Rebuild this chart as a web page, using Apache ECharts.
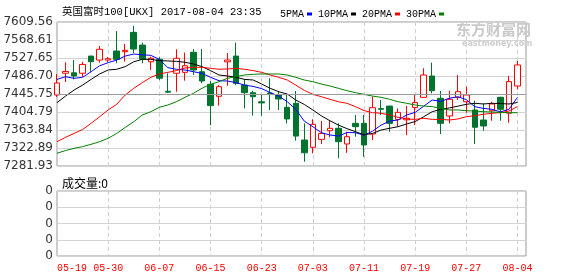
<!DOCTYPE html>
<html><head><meta charset="utf-8">
<script src="https://cdn.jsdelivr.net/npm/echarts@6/dist/echarts.min.js"></script>
<style>html,body{margin:0;padding:0;background:#fff}#c{width:578px;height:276px}</style>
</head><body><div id="c"></div>
<script>
const dates = ['05-19','05-22','05-23','05-24','05-25','05-26','05-30','05-31','06-01','06-02','06-05','06-06','06-07','06-08','06-09','06-12','06-13','06-14','06-15','06-16','06-19','06-20','06-21','06-22','06-23','06-26','06-27','06-28','06-29','06-30','07-03','07-04','07-05','07-06','07-07','07-10','07-11','07-12','07-13','07-14','07-17','07-18','07-19','07-20','07-21','07-24','07-25','07-26','07-27','07-28','07-31','08-01','08-02','08-03','08-04'];
const opens  = [7443.5,7493,7494,7493,7532,7523,7523,7543.6,7542,7586,7557,7519,7524.7,7452,7493,7495,7540.6,7496.5,7467.8,7440.5,7519,7532,7466,7448.7,7428,7448,7443.5,7415.5,7424.6,7341,7324.5,7342.5,7362.3,7367.7,7332,7379,7379,7354.7,7412.5,7418.3,7388,7387,7414.8,7438.2,7486.7,7436,7395.7,7438.2,7428.2,7409.4,7386.6,7407.7,7438.2,7402,7464];
const closes = [7470.8,7497,7486.7,7513,7519.3,7547.5,7526,7524.7,7545,7548,7525,7527,7481.6,7450,7527,7510,7500.4,7475.3,7419.3,7462.4,7523,7470,7448.7,7439.6,7425.5,7446,7434.4,7389,7350,7312,7376.8,7356,7367.7,7337.3,7348.6,7371.4,7329.7,7414.6,7411,7379,7404,7390.5,7426.2,7489,7453.3,7379,7433.7,7451,7443.5,7370,7373,7423,7411,7474,7511.8];
const lows   = [7439,7473,7479,7485,7496.5,7517,7518,7515.6,7519.3,7539,7515.6,7500.4,7477.6,7448,7451,7476,7489,7470,7375,7419.3,7464.6,7466,7413,7396.4,7396.4,7409.4,7409.4,7379,7339.5,7291.7,7310.8,7332,7347.2,7299.5,7312,7348.6,7303,7341,7398,7360,7371.4,7352.5,7375,7438.2,7447.3,7354.7,7379,7432,7403.2,7332,7362.3,7385,7385,7380.5,7456.4];
const highs  = [7491,7518,7523,7519,7533,7555,7530,7589,7559.5,7600.5,7562.5,7530.6,7530.6,7493,7547.5,7540,7548,7548,7475.3,7466,7539,7562.5,7480,7453.3,7443.5,7481.5,7452.6,7443.5,7452.6,7379,7388.2,7384.3,7386.6,7379,7360,7398,7398,7439.6,7432,7418.3,7413,7418.3,7443.5,7504.2,7517,7452.6,7453.3,7489,7462.4,7430.5,7424.6,7428.2,7439.6,7486.7,7520.8];
const ma5  = [7479,7485,7481.5,7483.7,7496.5,7510,7517,7523,7532,7536.7,7535,7533.7,7524.7,7505.7,7502,7500.4,7496.5,7492.8,7483.7,7476,7475.3,7471.5,7466,7463,7458,7449,7441,7428.2,7411,7384,7371.4,7357.7,7352.5,7350,7358,7357.7,7352,7361,7375,7384,7386.6,7398,7404,7418,7432,7429,7436,7439.6,7433,7416.9,7413,7411,7405,7411,7438];
const ma10 = [7426,7441,7454.8,7466,7479,7491.3,7500.4,7502,7508,7519,7524.7,7524.7,7521.6,7521,7520,7518,7514,7508,7499,7489,7486.7,7483.7,7479,7477.6,7468.5,7458.7,7451,7445.7,7432,7422,7409.4,7396,7385,7375,7367,7360,7353,7356,7363.8,7367.7,7371.4,7377.5,7383,7394,7405.5,7411,7414,7418,7422.3,7424.6,7423,7424.6,7424,7423,7426.5];
const ma20 = [7337.3,7347.2,7356,7365,7379,7394,7409.4,7422.3,7443.5,7458.7,7471.5,7483.7,7491.3,7495,7499,7505,7506.5,7506.5,7504.2,7502,7502.6,7504.2,7502,7499,7495,7489,7483.7,7477.6,7466,7454,7445,7439.6,7433.7,7428.2,7424.6,7417,7408,7403.2,7402,7398,7392.7,7388.9,7388,7390.5,7388,7388,7386.6,7388.9,7394,7396.4,7399.5,7402,7403.2,7407,7417];
const ma30 = [7311,7317,7322.2,7326,7331.3,7337.3,7345,7356,7369.7,7382.6,7398,7405.5,7415.5,7420.7,7428.2,7438.2,7447.3,7458.7,7467.8,7473.8,7481.5,7485.2,7489,7490.6,7491.3,7491.3,7491.3,7489,7483.7,7477.6,7473.8,7468.5,7464,7458.7,7453.3,7448.7,7445,7441,7438.2,7433.7,7428.2,7424.6,7420.7,7418.3,7417,7413,7409.4,7409.4,7407.7,7407,7405.5,7404.8,7404,7403.2,7403.2];
const yTicks = ['7281.93','7322.89','7363.84','7404.79','7445.75','7486.70','7527.65','7568.61','7609.56'];
const volTicks = ['0','0','0','0','0'];
const refLine = 7445.75;
const titleText = '英国富时100[UKX] 2017-08-04 23:35';
const volText = '成交量:0';

const yMin = 7281.93, yMax = 7609.56;
const xCats = dates.concat(['']);
const kData = dates.map((d, i) => [opens[i], closes[i], lows[i], highs[i]]);
const mono = "'Liberation Mono','DejaVu Sans Mono','Noto Sans CJK SC',monospace";
const everySix = (i) => i % 6 === 0;

const chart = echarts.init(document.getElementById('c'), null, {renderer: 'canvas'});
const lineS = (name, data, color) => ({
  name, type: 'line', data, xAxisIndex: 0, yAxisIndex: 0, symbol: 'none', silent: true,
  lineStyle: {color, width: 1}, itemStyle: {color}, animation: false
});
chart.setOption({
  animation: false,
  title: [
    {text: titleText, left: 57, top: 2, textStyle: {fontFamily: mono, fontSize: 10.5, fontWeight: 'normal', color: '#000'}},
    {text: volText, left: 57, top: 172, textStyle: {fontFamily: "'Noto Sans CJK SC',sans-serif", fontSize: 12, fontWeight: 'normal', color: '#000'}}
  ],
  legend: {
    left: 275, top: 4, align: 'right', icon: 'rect', itemWidth: 5, itemHeight: 3, itemGap: 6,
    textStyle: {fontFamily: mono, fontSize: 10, color: '#000', padding: [0, -2, 0, 0]},
    data: ['5PMA', '10PMA', '20PMA', '30PMA'], selectedMode: false
  },
  graphic: [
    {type: 'text', left: 456, top: 22, style: {text: '东方财富网', fill: '#c9c9c9', font: "bold 15px 'Noto Sans CJK SC'"}},
    {type: 'text', left: 462, top: 40, style: {text: 'eastmoney.com', fill: '#cfcfcf', font: "bold 8px 'DejaVu Sans'"}}
  ],
  grid: [
    {left: 57, top: 22, width: 469, height: 144, show: true, borderColor: '#999', borderWidth: 1},
    {left: 57, top: 191, width: 469, height: 65, show: true, borderColor: '#999', borderWidth: 1}
  ],
  xAxis: [
    {type: 'category', gridIndex: 0, data: xCats, boundaryGap: false,
     axisLine: {show: false}, axisTick: {show: false}, axisLabel: {show: false},
     splitLine: {show: true, interval: everySix, lineStyle: {color: '#d0d0d0', type: [4, 3]}}},
    {type: 'category', gridIndex: 1, data: xCats, boundaryGap: false,
     axisLine: {show: false}, axisTick: {show: false},
     axisLabel: {show: true, interval: everySix, color: '#f00', fontFamily: mono, fontSize: 10, margin: 7, alignMinLabel: 'left'},
     splitLine: {show: true, interval: everySix, lineStyle: {color: '#d0d0d0', type: [4, 3]}}}
  ],
  yAxis: [
    {type: 'value', gridIndex: 0, min: yMin, max: yMax, interval: (yMax - yMin) / 8, scale: true,
     axisLine: {show: false}, axisTick: {show: false},
     axisLabel: {formatter: (v, i) => yTicks[i], color: '#333', fontFamily: "'DejaVu Sans'", fontSize: 12, margin: 4},
     splitLine: {show: true, lineStyle: {color: '#d4d4d4', width: 1}}},
    {type: 'value', gridIndex: 1, min: 0, max: 4, interval: 1,
     axisLine: {show: false}, axisTick: {show: false},
     axisLabel: {formatter: (v, i) => volTicks[i], color: '#333', fontFamily: "'DejaVu Sans'", fontSize: 12, margin: 4},
     splitLine: {show: true, lineStyle: {color: '#d4d4d4', width: 1}}}
  ],
  series: [
    {type: 'candlestick', name: 'K', data: kData, xAxisIndex: 0, yAxisIndex: 0, barWidth: 6, silent: true,
     itemStyle: {color: '#ffffff', color0: '#00742f', borderColor: '#ff0000', borderColor0: '#00742f', borderWidth: 1},
     markLine: {silent: true, symbol: 'none', label: {show: false}, lineStyle: {color: '#9a9a9a', type: 'solid', width: 1},
       data: [{yAxis: refLine}], animation: false}},
    lineS('5PMA', ma5, '#0000ff'),
    lineS('10PMA', ma10, '#000000'),
    lineS('20PMA', ma20, '#ff0000'),
    lineS('30PMA', ma30, '#008000')
  ]
});
</script>
</body></html>
